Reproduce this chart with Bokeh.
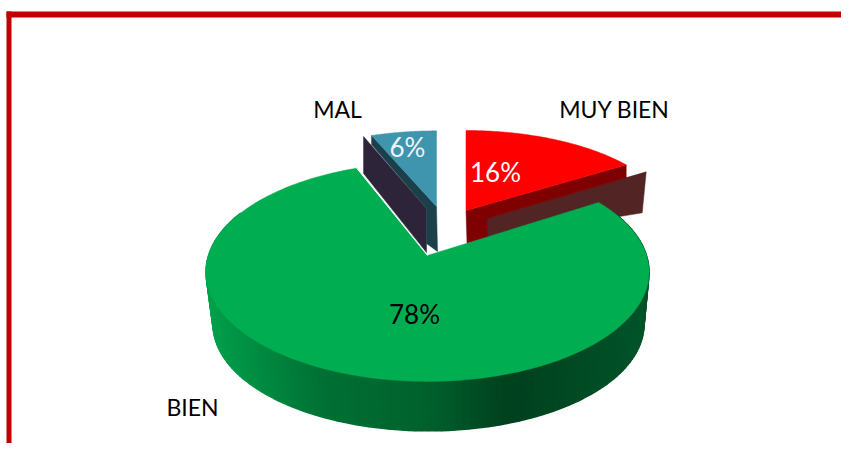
import math
from bokeh.plotting import figure
from bokeh.core.properties import value
from bokeh.embed import file_html
from bokeh.resources import INLINE

categories = ["MUY BIEN", "BIEN", "MAL"]
shares = [16, 78, 6]
pct_labels = ["16%", "78%", "6%"]

W, H = 841, 443
p = figure(width=W, height=H, x_range=(0, W), y_range=(H, 0), output_backend="svg",
           toolbar_location=None, min_border=0, outline_line_color=None,
           background_fill_color="white", border_fill_color="white")
p.axis.visible = False
p.grid.visible = False

TOTAL = sum(shares)
a1 = shares[0] / TOTAL * 360          # red sweeps 0..a1 clockwise from the top
a2 = a1 + shares[1] / TOTAL * 360     # green sweeps a1..a2
a3 = a2 + shares[2] / TOTAL * 360     # blue sweeps a2..a3


def proj(t, cx, cy, R, ry, persp=0.15):
    X, Y = math.sin(math.radians(t)), math.cos(math.radians(t))
    k = 1 + persp * Y
    return cx + R * X / k, cy - ry * Y / k


def arc(t0, t1, cx, cy, R, ry, n=120):
    return [proj(t0 + (t1 - t0) * i / n, cx, cy, R, ry) for i in range(n + 1)]


def poly(pts, color, lw=0.5):
    p.patch([q[0] for q in pts], [q[1] for q in pts], fill_color=color, line_color=color,
            line_width=lw)


def shift(q, dx, dy):
    return (q[0] + dx, q[1] + dy)


# ----- exploded red slice
red_c = (465.5, 210)
red_R, red_ry = 205, 92
r0 = proj(0, *red_c, red_R, red_ry)
r1 = proj(a1, *red_c, red_R, red_ry)
poly([shift(red_c, 20, 8), shift(r1, 20, 7), shift(r1, 16, 48), shift(red_c, 20, 28)], "#522424")
poly([red_c, r1, shift(r1, 0, 13), shift(red_c, 21, 8), shift(red_c, 21, 27), shift(red_c, 1, 33)], "#7F0000")
poly([red_c] + arc(0, a1, *red_c, red_R, red_ry), "#FF0000")

# ----- exploded blue slice
blue_c = (436, 206)
blue_R, blue_ry = 201, 87
b0 = proj(a2, *blue_c, blue_R, blue_ry)
poly([shift(b0, -8, 1), shift(blue_c, -10, 2), shift(blue_c, -10, 46), shift(b0, -8, 38)], "#2E2439")
poly([b0, blue_c, shift(blue_c, 1, 45), shift(blue_c, -10, 37), shift(blue_c, -10, 2), shift(b0, 0, 9)], "#1C3F4C")
poly([blue_c] + arc(a2, 360, *blue_c, blue_R, blue_ry), "#3F94AE")

# ----- green main slice: rim
cx, cy, R, ry = 427, 255, 219, 107
lcx, lcy, lR, lry = 428, 308, 213, 104
stops = [(205, (0, 160, 76)), (320, (0, 112, 52)), (430, (0, 96, 44)),
         (507, (0, 64, 30)), (650, (0, 84, 42))]


def rim_color(x):
    for (x0, c0), (x1, c1) in zip(stops, stops[1:]):
        if x <= x1:
            f = max(0, (x - x0) / (x1 - x0))
            return "#%02x%02x%02x" % tuple(round(u + (v - u) * f) for u, v in zip(c0, c1))
    return "#%02x%02x%02x" % stops[-1][1]


steps = 150
for i in range(steps):
    t0 = 65 + (295 - 65) * i / steps
    t1 = 65 + (295 - 65) * (i + 1) / steps
    u0, u1 = proj(t0, cx, cy, R, ry), proj(t1, cx, cy, R, ry)
    l0, l1 = proj(t0, lcx, lcy, lR, lry), proj(t1, lcx, lcy, lR, lry)
    poly([u0, u1, l1, l0], rim_color((u0[0] + u1[0]) / 2), lw=1.5)

green_arc = arc(a1, a2, cx, cy, R, ry, n=300)
poly([(cx, cy)] + green_arc, "#00AD50")
p.line([green_arc[-1][0], cx], [green_arc[-1][1], cy], line_color="white", line_width=1)

# ----- frame
p.quad(left=[6], right=[11], top=[11], bottom=[H], fill_color="#C00000", line_color=None)
p.quad(left=[6], right=[W], top=[11], bottom=[17], fill_color="#C00000", line_color=None)

# ----- texts
FONT = value("Lato")
p.text(x=[614, 192, 337], y=[108, 406, 108], text=categories, text_font=FONT, text_font_size="23px",
       text_color="black", text_align="center", text_baseline="middle")
p.text(x=[495, 414], y=[171, 313], text=pct_labels[:2], text_font=FONT, text_font_size="26px",
       text_color=["white", "black"], text_align="center", text_baseline="middle")
p.text(x=[407], y=[146], text=pct_labels[2:], text_font=FONT, text_font_size="26px",
       text_color="#EEF5F8", text_align="center", text_baseline="middle")

open("out.html", "w").write(file_html(p, INLINE))
